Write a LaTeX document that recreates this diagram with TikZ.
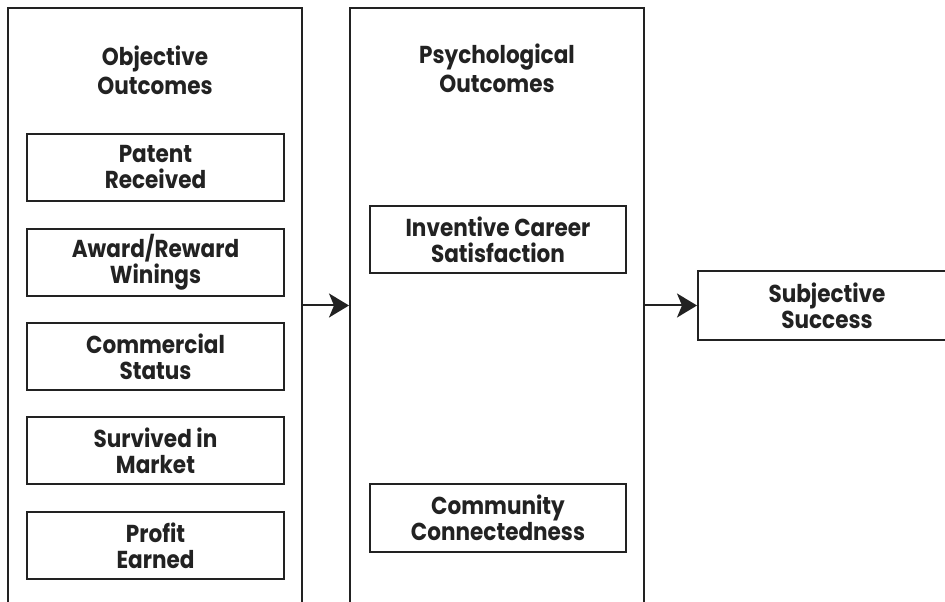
\documentclass[tikz,border=0pt]{standalone}
\usepackage{fontspec}
\setmainfont{Poppins}[FakeStretch=0.88]
\usetikzlibrary{arrows.meta}
\definecolor{ink}{HTML}{222222}

\begin{document}
\begin{tikzpicture}[x=1pt,y=1pt,line width=2pt,draw=ink,text=ink,
  font=\bfseries\fontsize{24.5}{26}\selectfont,
  panel/.style={draw,minimum width=294pt,minimum height=614pt,inner sep=0pt},
  heading/.style={align=center,font=\bfseries\fontsize{24.5}{29}\selectfont},
  item/.style={draw,minimum width=257pt,minimum height=67pt,inner sep=0pt,align=center},
  flow/.style={-{Stealth[length=20pt,width=24pt,inset=5pt]}}]
\useasboundingbox (0,0) rectangle (945,602);
\clip (0,0) rectangle (945,602);
% the two columns run off the bottom of the page
\node[panel] (objective) at (155,287) {};
\node[panel] (psych) at (497,287) {};
\node[heading] (objtitle) at (155,532) {Objective\\Outcomes};
\node[heading] (psytitle) at (497,534) {Psychological\\Outcomes};
% objective items
\foreach \name/\y/\txt in {patent/434.5/{Patent\\Received},
                           award/339.5/{Award/Reward\\Winings},
                           commercial/245.5/{Commercial\\Status},
                           survived/151.5/{Survived in\\Market},
                           profit/56.5/{Profit\\Earned}}
  \node[item] (\name) at (155.5,\y) {\txt};
% psychological items
\node[item,minimum width=256pt] (career) at (498,362.5) {Inventive Career\\Satisfaction};
\node[item,minimum width=256pt,minimum height=68pt] (community) at (498,84) {Community\\Connectedness};
% outcome box, cut by the right margin
\node[draw,minimum width=320pt,minimum height=69pt,inner sep=0pt] (success) at (858,296.5) {};
\node[align=center] (successtext) at (827,296.5) {Subjective\\Success};
\draw[flow] (objective.east |- success.west) -- (psych.west |- success.west);
\draw[flow] (psych.east |- success.west) -- (success.west);
\end{tikzpicture}
\end{document}
